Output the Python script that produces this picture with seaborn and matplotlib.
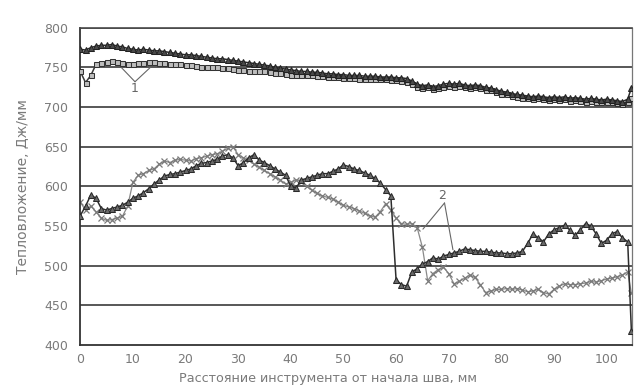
import matplotlib
matplotlib.use("Agg")
import matplotlib.pyplot as plt
import seaborn as sns
import pandas as pd

sns.set_theme(style="white")
plt.rcParams['font.family'] = ['DejaVu Sans']

# ---- data ----
x_mm = list(range(0, 105)) + [104.7]

# group 1, upper (triangles)
heat_1a = [773, 772, 775, 777, 778, 778, 779, 777, 776, 774,
           773, 772, 773, 772, 771, 771, 770, 769, 768, 767,
           766, 766, 765, 764, 763, 762, 761, 761, 760, 759,
           758, 757, 756, 755, 754, 753, 752, 750, 749, 748,
           747, 746, 745, 745, 744, 744, 743, 742, 742, 741,
           741, 740, 740, 740, 739, 739, 739, 738, 738, 738,
           737, 737, 736, 733, 729, 727, 728, 726, 727, 729,
           730, 729, 730, 728, 727, 728, 727, 725, 724, 722,
           720, 719, 717, 716, 715, 714, 713, 714, 713, 712,
           713, 712, 713, 711, 712, 711, 710, 711, 710, 709,
           710, 709, 708, 707, 710, 724]

# group 1, lower (squares)
heat_1b = [745, 731, 740, 754, 756, 757, 758, 757, 756, 755,
           755, 756, 756, 757, 757, 756, 756, 755, 755, 754,
           753, 753, 752, 751, 751, 750, 750, 749, 749, 748,
           747, 747, 746, 746, 745, 745, 744, 743, 743, 742,
           741, 741, 740, 740, 740, 739, 739, 738, 738, 738,
           737, 737, 737, 736, 736, 736, 735, 735, 735, 734,
           734, 733, 732, 729, 725, 724, 725, 723, 724, 726,
           727, 726, 727, 725, 724, 725, 724, 722, 721, 719,
           717, 716, 714, 713, 712, 711, 710, 711, 710, 709,
           710, 709, 710, 708, 709, 708, 707, 708, 707, 706,
           707, 706, 705, 704, 706, 712]

# group 2, dark (triangles)
heat_2a = [563, 575, 589, 585, 572, 570, 572, 574, 576, 580,
           585, 588, 592, 597, 603, 608, 613, 615, 616, 618,
           620, 622, 626, 629, 630, 632, 634, 638, 640, 636,
           626, 630, 636, 640, 633, 630, 626, 622, 618, 614,
           600, 598, 608, 610, 612, 614, 616, 616, 619, 622,
           627, 625, 622, 620, 617, 614, 610, 604, 596, 588,
           482, 476, 474, 492, 496, 502, 505, 510, 508, 512,
           514, 516, 518, 521, 520, 519, 518, 518, 517, 516,
           516, 515, 515, 516, 518, 528, 540, 535, 530, 540,
           545, 548, 551, 545, 538, 545, 553, 550, 540, 528,
           532, 540, 543, 535, 530, 418]

# group 2, light (crosses)
heat_2b = [580, 570, 575, 568, 560, 557, 558, 560, 562, 575,
           605, 614, 616, 620, 622, 628, 632, 630, 633, 634,
           633, 632, 635, 636, 638, 640, 641, 644, 648, 650,
           640, 636, 633, 628, 624, 620, 616, 612, 608, 603,
           605, 608, 606, 600, 595, 591, 588, 586, 584, 580,
           576, 574, 572, 569, 566, 563, 561, 568, 578, 570,
           560, 553, 552, 553, 548, 523, 481, 490, 495, 498,
           490, 477, 480, 484, 488, 485, 476, 466, 468, 470,
           470, 471, 470, 471, 469, 467, 468, 470, 466, 464,
           470, 474, 477, 476, 476, 477, 478, 480, 479, 481,
           483, 484, 486, 488, 492, 465]

y_ticks = [400, 450, 500, 550, 600, 650, 700, 750, 800]
x_ticks = [0, 10, 20, 30, 40, 50, 60, 70, 80, 90, 100]

df = pd.DataFrame({"x": x_mm, "1a": heat_1a, "1b": heat_1b,
                   "2a": heat_2a, "2b": heat_2b})

fig = plt.figure(figsize=(6.37, 3.87), dpi=100)
ax = fig.add_axes([0.126, 0.109, 0.866, 0.819])

for y in y_ticks[1:]:
    ax.axhline(y, color="#4a4a4a", lw=1.3, zorder=0)

sns.lineplot(data=df, x="x", y="2b", ax=ax, color="#8a8a8a", lw=0.9,
             marker="x", markersize=4, markeredgewidth=0.9,
             markeredgecolor="#7a7a7a", zorder=2)
sns.lineplot(data=df, x="x", y="2a", ax=ax, color="#2e2e2e", lw=1.1,
             marker="^", markersize=4.2, markeredgecolor="#2a2a2a",
             markerfacecolor="#6a6a6a", zorder=3)
sns.lineplot(data=df, x="x", y="1b", ax=ax, color="#3a3a3a", lw=1.1,
             marker="s", markersize=3.6, markeredgecolor="#333333",
             markerfacecolor="#bdbdbd", zorder=3)
sns.lineplot(data=df, x="x", y="1a", ax=ax, color="#2a2a2a", lw=1.1,
             marker="^", markersize=4.2, markeredgecolor="#222222",
             markerfacecolor="#4a4a4a", zorder=4)

# annotation labels with leader lines
ann_col = "#666666"
ax.text(10.4, 723, "1", ha="center", va="center", fontsize=9, color=ann_col)
for tx in (7.8, 13.3):
    ax.plot([10.4, tx], [732, 750], color=ann_col, lw=0.8)
ax.text(68.8, 589, "2", ha="center", va="center", fontsize=9, color=ann_col)
for tx, ty in ((65.1, 546), (70.8, 520)):
    ax.plot([69.2, tx], [579, ty], color=ann_col, lw=0.8)

ax.set_xlim(0, 104.8)
ax.set_ylim(400, 800)
ax.set_xticks(x_ticks)
ax.set_yticks(y_ticks)
ax.tick_params(axis="both", labelsize=9, labelcolor="#7a7a7a", colors="#555555",
               length=3, width=0.8, direction="out")
ax.tick_params(axis="y", pad=6)
ax.tick_params(axis="x", pad=3)
for side in ("left", "bottom"):
    ax.spines[side].set_color("#333333")
    ax.spines[side].set_linewidth(1.3)
ax.spines["right"].set_color("#777777")
ax.spines["right"].set_linewidth(0.9)
ax.spines["top"].set_color("#4a4a4a")
ax.spines["top"].set_linewidth(1.2)

ax.set_xlabel("Расстояние инструмента от начала шва, мм", fontsize=9.2,
              color="#7a7a7a", labelpad=1)
ax.xaxis.set_label_coords(0.449, -0.085)
ax.set_ylabel("Тепловложение, Дж/мм", fontsize=10, color="#7a7a7a",
              labelpad=10)

fig.savefig("out.png", dpi=100)
